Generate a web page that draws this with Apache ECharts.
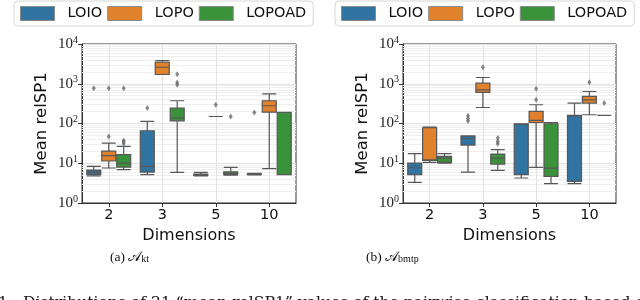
<!DOCTYPE html>
<html>
<head>
<meta charset="utf-8">
<script src="https://cdn.jsdelivr.net/npm/echarts@6/dist/echarts.min.js"></script>
<style>html,body{margin:0;padding:0;background:#fff}#c{width:640px;height:300px}</style>
</head>
<body>
<div id="c"></div>
<script>
// ---- data ----
const categories = ['2', '3', '5', '10'];
const seriesNames = ['LOIO', 'LOPO', 'LOPOAD'];
const yTicks = [1, 10, 100, 1000, 10000];

// panel (a) A_kt : [min, Q1, median, Q3, max] per category
const ktLOIO   = [[4.8, 5.25, 6.0, 6.75, 8.3], [5.15, 6.0, 8.35, 65.7, 113], [4.8, 4.95, 5.1, 5.35, 5.9], [5.1, 5.25, 5.35, 5.45, 5.6]];
const ktLOPO   = [[7.6, 11.4, 15.5, 20.3, 32.2], [1710, 1710, 2600, 3490, 3843], [150, 150, 150, 150, 150], [7.3, 193, 280, 373, 559]];
const ktLOPOAD = [[6.88, 8.03, 10.1, 16.4, 26.5], [5.9, 117, 137, 244, 373], [5.0, 5.15, 5.5, 6.1, 7.9], [5.15, 5.15, 5.2, 190, 190]];
// outliers: [categoryIndex, value]
const ktLOIOOut   = [[0, 775], [1, 244], [3, 190]];
const ktLOPOOut   = [[0, 47.3], [0, 775], [2, 296]];
const ktLOPOADOut = [[0, 37.6], [0, 34.1], [0, 30.9], [0, 775], [1, 1742], [1, 1076], [1, 940], [2, 150]];

// panel (b) A_bmtp
const bmLOIO   = [[3.3, 5.15, 7.7, 10.1, 17.4], [6.0, 28.7, 41.3, 48.2, 49], [4.25, 5.15, 95, 98.5, 98.5], [3.06, 3.5, 155, 160, 326]];
const bmLOPO   = [[10.5, 11.8, 12.2, 78.2, 81], [253, 604, 704, 1035, 1437], [7.9, 106, 120, 201, 296], [166, 326, 395, 479, 639]];
const bmLOPOAD = [[10.1, 10.5, 13.5, 14.9, 17.4], [6.6, 9.55, 13.5, 17.0, 21.9], [3.06, 4.68, 7.57, 98.5, 106], [160, 160, 160, 160, 160]];
const bmLOIOOut   = [[1, 156], [1, 134], [1, 115]];
const bmLOPOOut   = [[1, 2612], [2, 746], [2, 395], [3, 1097]];
const bmLOPOADOut = [[1, 43], [1, 35.4], [1, 31], [3, 326]];

const minorGrid = [];
for (let d = 1; d < 10000; d *= 10) for (let k = 2; k <= 9; k++) minorGrid.push(k * d);

// ---- style ----
const colors = ['#3274a1', '#e1812c', '#3a923a'];
const lineGrey = '#575757';
const grids = [
  {left: 82, top: 44, width: 214, height: 159},
  {left: 403, top: 44, width: 213, height: 159}
];

function yAxis(i) {
  return {
    type: 'log', logBase: 10, min: 1, max: 10000, gridIndex: i,
    name: 'Mean relSP1', nameLocation: 'middle', nameGap: 32, nameRotate: 90,
    nameTextStyle: {fontFamily: 'DejaVu Sans', fontSize: 16.5, color: '#111'},
    axisLine: {show: true, lineStyle: {color: '#333'}},
    axisTick: {show: true, length: 4, lineStyle: {color: '#333'}},
    splitLine: {show: true, lineStyle: {color: '#e2e2e2', width: 1}},
    axisLabel: {
      margin: 4,
      formatter: v => '{b|10}{s|' + Math.round(Math.log10(v)) + '}',
      rich: {
        b: {fontFamily: 'Liberation Serif', fontSize: 15, lineHeight: 18, color: '#222'},
        s: {fontFamily: 'Liberation Serif', fontSize: 10, lineHeight: 10, verticalAlign: 'top', color: '#222'}
      }
    }
  };
}
function xAxis(i) {
  return {
    type: 'category', data: categories, gridIndex: i,
    name: 'Dimensions', nameLocation: 'middle', nameGap: 22,
    nameTextStyle: {fontFamily: 'DejaVu Sans', fontSize: 16, color: '#111'},
    axisLine: {show: true, lineStyle: {color: '#333'}},
    axisTick: {show: true, alignWithLabel: true, length: 4, lineStyle: {color: '#333'}},
    axisLabel: {margin: 5, fontFamily: 'DejaVu Sans', fontSize: 14.5, color: '#111'},
    splitLine: {show: false}
  };
}

function offsetFor(g) {
  const band = g.width / categories.length;
  return (band * 0.8 - 2) * 1.1 / 3;
}

const series = [];
const panels = [
  [ktLOIO, ktLOPO, ktLOPOAD, ktLOIOOut, ktLOPOOut, ktLOPOADOut],
  [bmLOIO, bmLOPO, bmLOPOAD, bmLOIOOut, bmLOPOOut, bmLOPOADOut]
];
panels.forEach((p, gi) => {
  // grid lines via library scale
  series.push({
    type: 'scatter', xAxisIndex: gi, yAxisIndex: gi, data: [], z: 1, silent: true,
    markLine: {
      silent: true, symbol: 'none', label: {show: false}, animation: false, z: 1,
      data: minorGrid.map(v => ({yAxis: v, lineStyle: {color: '#efefef', width: 1, type: 'solid'}}))
        .concat(categories.map(c => ({xAxis: c, lineStyle: {color: '#e2e2e2', width: 1, type: 'solid'}})))
    }
  });
  const off = offsetFor(grids[gi]);
  for (let s = 0; s < 3; s++) {
    series.push({
      name: seriesNames[s], type: 'boxplot', xAxisIndex: gi, yAxisIndex: gi,
      data: p[s], boxWidth: [14, 14], z: 3,
      itemStyle: {color: colors[s], borderColor: lineGrey, borderWidth: 1.2}
    });
    series.push({
      name: seriesNames[s], type: 'scatter', xAxisIndex: gi, yAxisIndex: gi,
      data: p[s + 3], symbol: 'diamond', symbolSize: [4, 6], symbolOffset: [(s - 1) * off, 0], z: 4,
      itemStyle: {color: '#6a6a6a'}
    });
  }
});

function legend(left) {
  return {
    data: seriesNames.map((n, i) => ({name: n, itemStyle: {color: colors[i], borderColor: '#8a8a8a', borderWidth: 1}})),
    left: left, top: 1, icon: 'rect', itemWidth: 34, itemHeight: 14,
    itemGap: 5, padding: [5, 7, 5, 6], borderColor: '#d6d6d6', borderWidth: 1, borderRadius: 4,
    backgroundColor: '#fff',
    textStyle: {fontFamily: 'DejaVu Sans', fontSize: 14.5, color: '#111', padding: [0, 0, 0, 8]}
  };
}

const chart = echarts.init(document.getElementById('c'), null, {renderer: 'canvas'});
chart.setOption({
  animation: false,
  backgroundColor: '#fff',
  color: colors,
  grid: grids.map(g => Object.assign({show: true, borderColor: '#333', borderWidth: 1, backgroundColor: 'transparent'}, g)),
  xAxis: [xAxis(0), xAxis(1)],
  yAxis: [yAxis(0), yAxis(1)],
  legend: [legend(14), legend(335)],
  series: series,
  graphic: [
    {type: 'text', left: 110, top: 250, style: {text: '(a) {A|𝒜}{sub|kt}', fontFamily: 'Liberation Serif', fontSize: 13.5, fill: '#111',
      rich: {A: {fontFamily: 'DejaVu Serif', fontSize: 14, fill: '#111'}, sub: {fontFamily: 'Liberation Serif', fontSize: 10, verticalAlign: 'bottom', fill: '#111'}}}},
    {type: 'text', left: 366, top: 250, style: {text: '(b) {A|𝒜}{sub|bmtp}', fontFamily: 'Liberation Serif', fontSize: 13.5, fill: '#111',
      rich: {A: {fontFamily: 'DejaVu Serif', fontSize: 14, fill: '#111'}, sub: {fontFamily: 'Liberation Serif', fontSize: 10, verticalAlign: 'bottom', fill: '#111'}}}},
    {type: 'text', left: -2, top: 295, style: {text: '1:  Distributions of 21 “mean relSP1” values of the pairwise classification based on', fontFamily: 'DejaVu Serif', fontSize: 15.6, fill: '#111'}}
  ]
});
</script>
</body>
</html>
